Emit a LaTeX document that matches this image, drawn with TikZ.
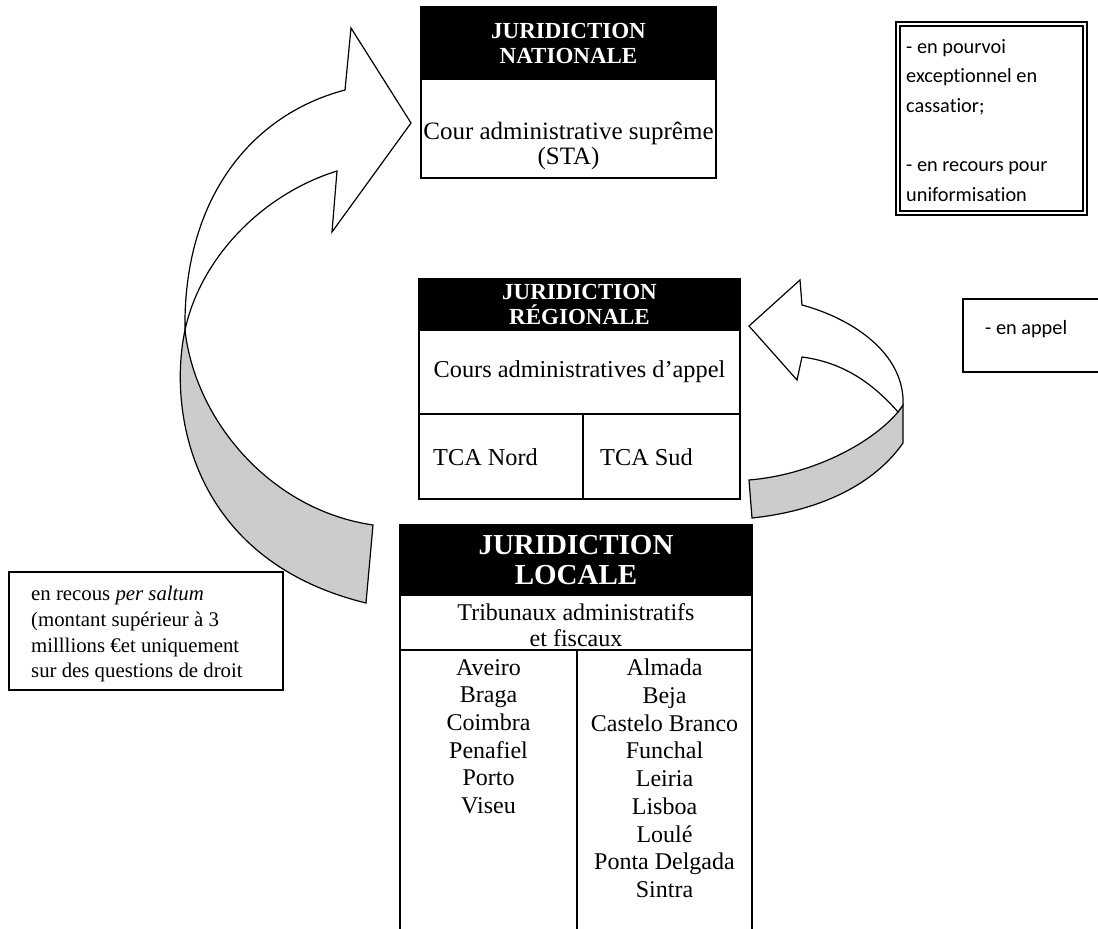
\documentclass[tikz,border=0pt]{standalone}
\usepackage{fontspec}
\setmainfont{Liberation Serif}
\newfontfamily\calibri[Ligatures=NoCommon]{Carlito}
\usepackage{tikz}
\usetikzlibrary{positioning}

\begin{document}
\begin{tikzpicture}[
    x=1pt, y=-1pt,
    hdr/.style={rectangle, draw=black, fill=black, text=white, line width=2.5pt, anchor=north west, inner sep=0pt, outer sep=0pt, align=center, font=\fontsize{23}{25}\selectfont\bfseries},
    cell/.style={rectangle, draw, line width=2.5pt, anchor=north west, inner sep=0pt, outer sep=0pt, align=center, font=\fontsize{24.3}{26}\selectfont},
    body/.style={align=center, inner sep=0pt, font=\fontsize{24.3}{26}\selectfont},
    city/.style={align=center, inner sep=0pt, anchor=north, font=\fontsize{24}{27.7}\selectfont},
    note/.style={rectangle, draw, fill=white, line width=1.5pt, anchor=north west, inner sep=0pt, outer sep=0pt},
    notetxt/.style={anchor=north west, align=left, inner sep=0pt, font=\calibri\fontsize{20.3}{29.6}\selectfont},
    ribbon/.style={draw, line width=1.2pt, line join=miter, fill=white},
    ribbonback/.style={ribbon, fill=gray!40}
]
    \clip (0,0) rectangle (1098,929);
    \fill[white] (0,0) rectangle (1098,929);

    % curved arrows
    \draw[ribbonback] (185,330) .. controls (168,410) and (190,560) .. (366,603) -- (373,525) .. controls (270,510) and (195,420) .. (185,330) -- cycle;
    \draw[ribbon] (185,330) .. controls (183,200) and (250,115) .. (345,90) -- (351,28) -- (411,123) -- (332,232) -- (337,171) .. controls (260,195) and (200,260) .. (185,330) -- cycle;
    \draw[ribbonback] (898,412) -- (903,405) -- (903,443) .. controls (870,490) and (810,512) .. (752,518) -- (749,480) .. controls (810,475) and (870,445) .. (898,412) -- cycle;
    \draw[ribbon] (802,305) .. controls (850,318) and (900,350) .. (903,398) -- (903,405) -- (898,412) .. controls (870,380) and (840,362) .. (802,357) -- (797,380) -- (749,326) -- (800,280) -- cycle;

    % national
    \node[hdr, minimum width=295pt, minimum height=72pt, line width=2pt] (nathead) at (421,7) {JURIDICTION\\NATIONALE};
    \node[cell, minimum width=295pt, minimum height=99pt, line width=2pt] (natbody) at (nathead.south west) {};
    \node[body, font=\fontsize{25}{25}\selectfont] (natname) at (568.5,146) {Cour administrative suprême\\(STA)};

    % regional
    \node[hdr, minimum width=321pt, minimum height=51pt] (reghead) at (419,279) {JURIDICTION\\RÉGIONALE};
    \node[cell, minimum width=321pt, minimum height=84pt] (regbody) at (reghead.south west) {Cours administratives d'appel};
    \node[cell, minimum width=164pt, minimum height=85pt] (tcanord) at (regbody.south west) {};
    \node[cell, minimum width=157pt, minimum height=85pt] (tcasud) at (tcanord.north east) {};
    \node[body, anchor=west] (nordtxt) at (433,457) {TCA Nord};
    \node[body, anchor=west] (sudtxt) at (600,457) {TCA Sud};

    % local
    \node[hdr, minimum width=352pt, minimum height=70pt, font=\fontsize{29}{30}\selectfont\bfseries] (lochead) at (400,525) {JURIDICTION\\LOCALE};
    \node[cell, minimum width=352pt, minimum height=55pt] (locbody) at (lochead.south west) {};
    \node[body, font=\fontsize{24}{26}\selectfont] (tribtxt) at (576,625) {Tribunaux administratifs\\et fiscaux};
    \node[cell, minimum width=177pt, minimum height=300pt] (colnord) at (locbody.south west) {};
    \node[cell, minimum width=175pt, minimum height=300pt] (colsud) at (colnord.north east) {};
    \node[city] (citiesnord) at (488.5,659) {Aveiro\\Braga\\Coimbra\\Penafiel\\Porto\\Viseu};
    \node[city] (citiessud) at (664.5,659) {Almada\\Beja\\Castelo Branco\\Funchal\\Leiria\\Lisboa\\Loulé\\Ponta Delgada\\Sintra};

    % notes
    \node[note, minimum width=191pt, minimum height=193pt] (casbox) at (896,22) {};
    \draw[line width=2.4pt] ([shift={(4,4)}]casbox.north west) rectangle ([shift={(-4,-4)}]casbox.south east);
    \node[notetxt] (castxt) at (906,39) {- en pourvoi\\exceptionnel en\\cassatior;\\[29.6pt]- en recours pour\\uniformisation};
    \node[note, minimum width=150pt, minimum height=73pt] (appelbox) at (963,299) {};
    \node[notetxt] (appeltxt) at (985,320) {- en appel};
    \node[note, minimum width=274pt, minimum height=118pt] (saltumbox) at (9,572) {};
    \node[anchor=north west, align=left, inner sep=0pt, font=\fontsize{20.8}{25.7}\selectfont] (saltumtxt) at (31,586) {en recous \textit{per saltum}\\(montant supérieur à 3\\milllions €et uniquement\\sur des questions de droit};
\end{tikzpicture}
\end{document}
